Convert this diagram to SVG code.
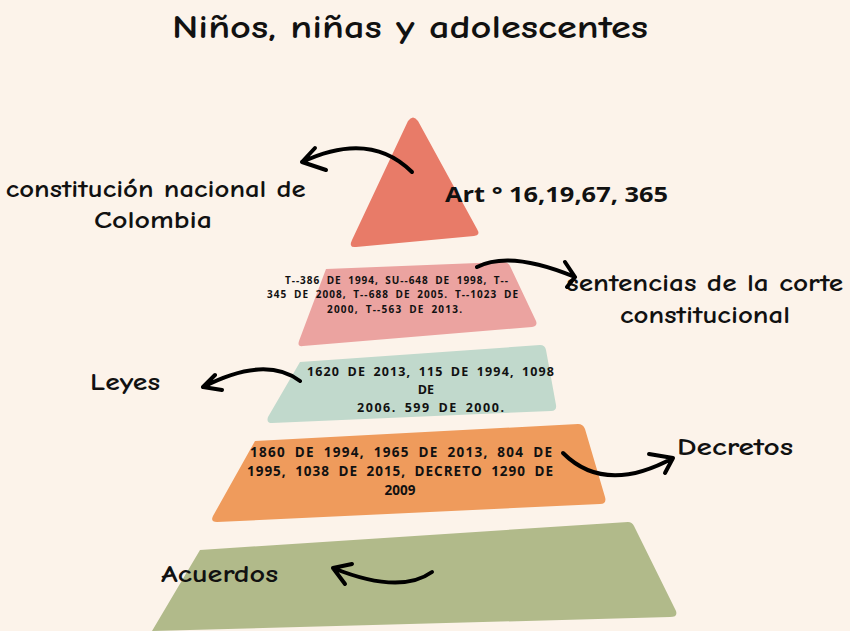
<svg xmlns="http://www.w3.org/2000/svg" width="850" height="631" viewBox="0 0 850 631">
<style>
.hand{font-family:"Comic Neue","Noto Sans","DejaVu Sans",sans-serif;font-weight:700;fill:#111;}
.body{font-family:"Open Sans","Noto Sans",sans-serif;font-weight:700;fill:#111;}
.arr{fill:none;stroke:#000;stroke-width:4;stroke-linecap:round;stroke-linejoin:round;}
</style>
<rect width="850" height="631" fill="#fcf3ea"/>
<text class="hand" x="410" y="38" font-size="32" text-anchor="middle" textLength="476" lengthAdjust="spacingAndGlyphs">Niños, niñas y adolescentes</text>

<g id="nivel1">
<path d="M408,121 Q413,114 418,121 L477,229 Q481,235 474,236 L356,247 Q348,248 352,240 Z" fill="#e87b68"/>
<text class="body" x="445" y="202" font-size="21" textLength="223" lengthAdjust="spacingAndGlyphs">Art ° 16,19,67, 365</text>
</g>

<g id="nivel2">
<path d="M326,269 L503,262 Q508,262 510,266 L536,321 Q538,326 532,327 L303,346 Q297,347 299,341 Z" fill="#eba3a0"/>
<text class="body" font-size="10" word-spacing="3">
<tspan x="285" y="284" textLength="223" lengthAdjust="spacing">T--386 DE 1994, SU--648 DE 1998, T--</tspan>
<tspan x="267" y="298" textLength="251" lengthAdjust="spacing">345 DE 2008, T--688 DE 2005. T--1023 DE</tspan>
<tspan x="327" y="313" textLength="135" lengthAdjust="spacing">2000,    T--563 DE 2013.</tspan>
</text>
</g>

<g id="nivel3">
<path d="M300,362 L540,345 Q545,345 546,350 L556,405 Q557,411 551,411 L272,423 Q266,423 268,417 Z" fill="#c1d9cc"/>
<text class="body" font-size="12.5" word-spacing="3">
<tspan x="307" y="376" textLength="247" lengthAdjust="spacing">1620 DE 2013, 115 DE 1994, 1098</tspan>
<tspan x="429" y="394" text-anchor="middle">DE</tspan>
<tspan x="357" y="412" textLength="147" lengthAdjust="spacing">2006. 599 DE 2000.</tspan>
</text>
</g>

<g id="nivel4">
<path d="M255,441 L578,424 Q583,424 585,429 L605,497 Q607,504 600,504 L217,522 Q210,522 213,516 Z" fill="#ef9b5c"/>
<text class="body" font-size="13.5" word-spacing="4">
<tspan x="250" y="457" textLength="302" lengthAdjust="spacing">1860 DE 1994, 1965 DE 2013, 804 DE</tspan>
<tspan x="247" y="476" textLength="306" lengthAdjust="spacing">1995, 1038 DE 2015, DECRETO 1290 DE</tspan>
<tspan x="400" y="495" text-anchor="middle">2009</tspan>
</text>
</g>

<g id="nivel5">
<path d="M200,550 L628,522 Q632,522 634,526 L676,611 Q678,617 670,617 L152,631 L152,631 Z" fill="#b1ba8a"/>
</g>

<g id="etiquetas">
<text class="hand" font-size="24" text-anchor="middle">
<tspan x="160" y="197" textLength="300" lengthAdjust="spacingAndGlyphs">constitución nacional de</tspan>
<tspan x="153" y="228" textLength="118" lengthAdjust="spacingAndGlyphs">Colombia</tspan>
</text>
<text class="hand" font-size="24" text-anchor="middle">
<tspan x="709" y="291" textLength="277" lengthAdjust="spacingAndGlyphs">sentencias de la corte</tspan>
<tspan x="705" y="323" textLength="170" lengthAdjust="spacingAndGlyphs">constitucional</tspan>
</text>
<text class="hand" x="90" y="390" font-size="24" textLength="70" lengthAdjust="spacingAndGlyphs">Leyes</text>
<text class="hand" x="677" y="455" font-size="24" textLength="116" lengthAdjust="spacingAndGlyphs">Decretos</text>
<text class="hand" x="161" y="582" font-size="24" textLength="117" lengthAdjust="spacingAndGlyphs">Acuerdos</text>
</g>

<g id="conectores">
<path class="arr" d="M412,172 Q370,130 302,162 M302,162 L315,148 M302,162 L326,170"/>
<path class="arr" d="M477,267 Q510,250 575,277 M575,277 L565,262 M575,277 L567,287"/>
<path class="arr" d="M300,381 Q265,355 203,387 M203,387 L215,375 M203,387 L222,390"/>
<path class="arr" d="M563,453 Q605,495 673,458 M673,458 L649,454 M673,458 L665,473"/>
<path class="arr" d="M432,572 Q400,595 333,568 M333,568 L352,564 M333,568 L345,584"/>
</g>
</svg>
